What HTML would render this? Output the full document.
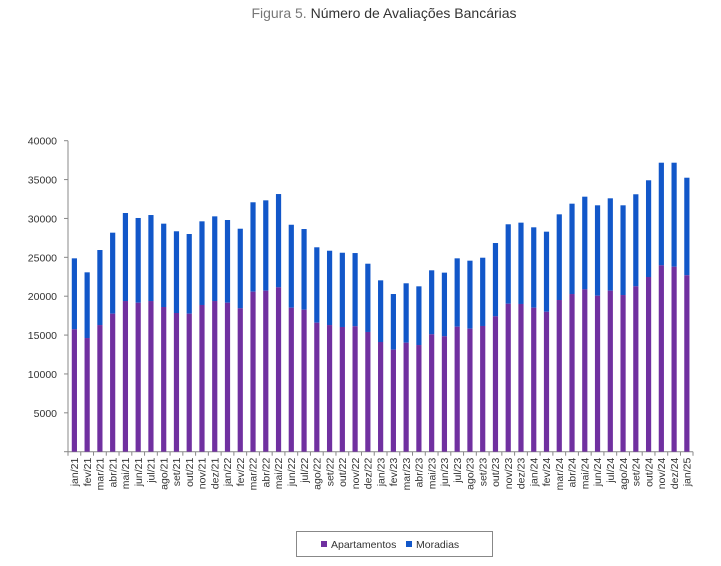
<!DOCTYPE html>
<html><head><meta charset="utf-8"><style>
body{margin:0;background:#fff;width:721px;height:561px;overflow:hidden;font-family:"Liberation Sans",sans-serif}
</style></head><body>
<svg id="s" width="721" height="561" xmlns="http://www.w3.org/2000/svg" font-family="Liberation Sans, sans-serif">
<text x="384" y="18" text-anchor="middle" font-size="14"><tspan fill="#777">Figura 5. </tspan><tspan fill="#333">Número de Avaliações Bancárias</tspan></text>
<rect x="296.5" y="531.5" width="196" height="25" fill="#fff" stroke="#888"/>
<rect x="321" y="541" width="6" height="6" fill="#7030A0"/>
<text x="331" y="548" font-size="10.5" fill="#333">Apartamentos</text>
<rect x="406" y="541" width="6" height="6" fill="#1257C9"/>
<text x="416" y="548" font-size="10.5" fill="#333">Moradias</text>
</svg>
<script>
var s=document.getElementById('s'),NS='http://www.w3.org/2000/svg';
function el(n,a,t){var e=document.createElementNS(NS,n);for(var k in a)e.setAttribute(k,a[k]);if(t)e.textContent=t;s.appendChild(e);return e;}
var tot=[24870,23070,25940,28170,30700,30060,30440,29330,28350,28000,29630,30270,29800,28680,32080,32330,33140,29190,28640,26290,25850,25590,25550,24180,22040,20280,21660,21270,23330,23030,24870,24570,24950,26840,29250,29460,28860,28300,30530,31900,32800,31690,32590,31690,33110,34910,37170,37170,35240];
var ap=[15740,14620,16290,17750,19380,19160,19380,18610,17840,17750,18870,19380,19160,18440,20580,20710,21140,18520,18260,16590,16290,16040,16130,15400,14110,13120,14020,13720,15100,14840,16080,15820,16170,17410,19030,19000,18520,18000,19510,20280,20880,20060,20710,20150,21270,22470,23970,23790,22690];
var m=['jan','fev','mar','abr','mai','jun','jul','ago','set','out','nov','dez'];
var y0=451.7,sc=311/40000,x0=68,w=12.76;
for(var v=0;v<=40000;v+=5000){var y=y0-v*sc;el('text',{x:57,y:y+4,'text-anchor':'end','font-size':10.5,fill:'#333'},v);el('line',{x1:64,x2:68,y1:y,y2:y,stroke:'#888'});}
el('line',{x1:68,x2:68,y1:140.7,y2:y0,stroke:'#888'});
el('line',{x1:68,x2:693,y1:y0,y2:y0,stroke:'#888'});
for(var i=0;i<49;i++){var cx=x0+w*(i+0.5);
el('rect',{x:cx-2.6,y:y0-tot[i]*sc,width:5.2,height:(tot[i]-ap[i])*sc,fill:'#1257C9'});
el('rect',{x:cx-2.6,y:y0-ap[i]*sc,width:5.2,height:ap[i]*sc,fill:'#7030A0'});
el('line',{x1:x0+w*i,x2:x0+w*i,y1:y0,y2:y0+4,stroke:'#888'});
var lab=m[i%12]+'/'+(21+Math.floor(i/12));
el('text',{x:0,y:0,'font-size':10.5,fill:'#333','text-anchor':'end',transform:'translate('+(cx+3.7)+','+(y0+6)+') rotate(-90)'},lab);}
el('line',{x1:693,x2:693,y1:y0,y2:y0+4,stroke:'#888'});
</script>
</body></html>
